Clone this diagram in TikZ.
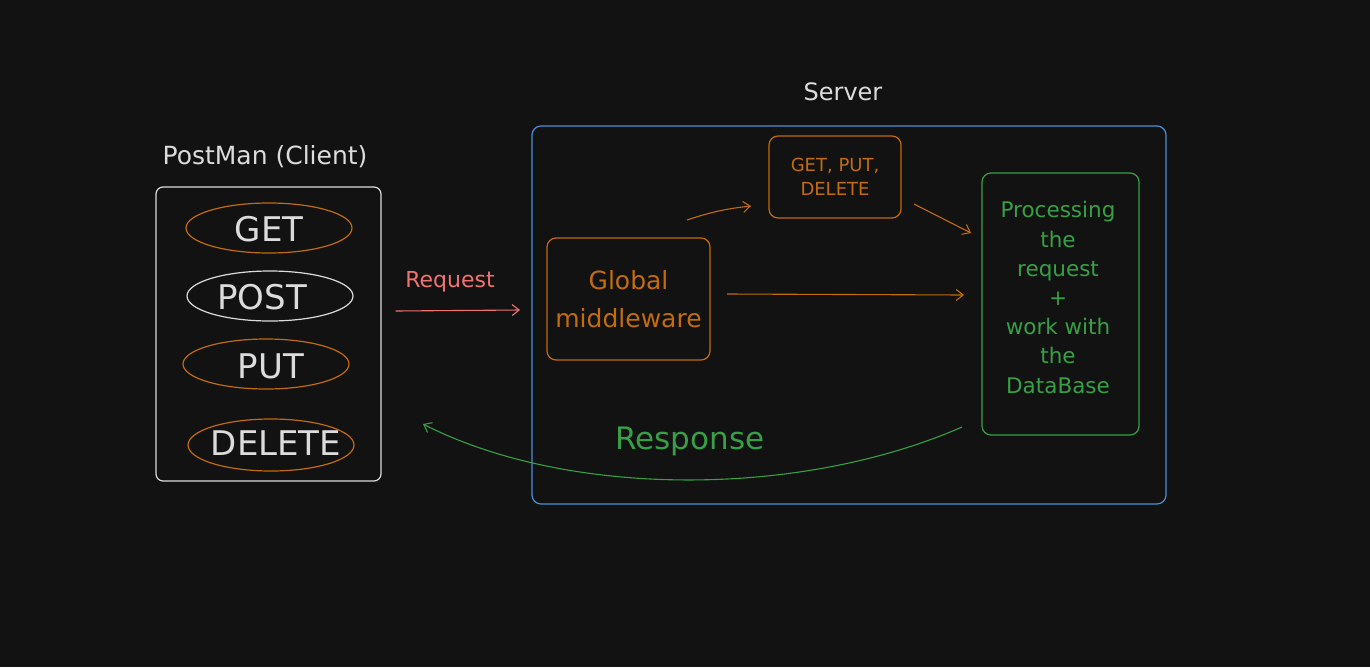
\documentclass[tikz,border=0pt]{standalone}
\usepackage{fontspec}
\setmainfont{DejaVu Sans}
\usetikzlibrary{arrows.meta,shapes.geometric}
\definecolor{bg}{HTML}{121212}
\definecolor{wht}{HTML}{DCDCDC}
\definecolor{org}{HTML}{C26C0A}
\definecolor{grn}{HTML}{37A046}
\definecolor{blu}{HTML}{4A8FD6}
\definecolor{rqs}{HTML}{F27272}
\tikzset{
  box/.style={draw, rounded corners=9pt, line width=1.2pt, inner sep=0pt},
  oval/.style={draw, ellipse, line width=1.2pt, inner sep=0pt, minimum width=166pt, minimum height=50pt},
  lbl/.style={inner sep=0pt, font=\fontsize{34}{34}\selectfont, text=wht},
  arr/.style={line width=1.1pt, -{Straight Barb[length=7pt,width=11pt]}},
}
\begin{document}
\begin{tikzpicture}[x=1pt,y=-1pt]
\fill[bg] (0,0) rectangle (1370,667);
\useasboundingbox (0,0) rectangle (1370,667);

% titles
\node[text=wht, font=\fontsize{24}{24}\selectfont] (servertitle) at (843,92) {Server};
\node[text=wht, font=\fontsize{25}{25}\selectfont] (clienttitle) at (265,157) {PostMan (Client)};

% containers
\node[box, draw=blu, minimum width=634pt, minimum height=378pt] (server) at (849,315) {};
\node[box, draw=wht, rounded corners=7pt, minimum width=225pt, minimum height=294pt] (client) at (268.5,334) {};

% client methods
\node[oval, draw=org] (get) at (269,228) {};
\node[oval, draw=wht] (post) at (270,296) {};
\node[oval, draw=org] (put) at (266,364) {};
\node[oval, draw=org, minimum height=52pt] (delete) at (271,445) {};
\node[lbl] (getl) at (269,229) {GET};
\node[lbl] (postl) at (262,297) {POST};
\node[lbl] (putl) at (271,366) {PUT};
\node[lbl] (deletel) at (276,443) {DELETE};

% server parts
\node[box, draw=org, text=org, minimum width=163pt, minimum height=122pt, align=center,
      font=\fontsize{25}{38}\selectfont] (global) at (628.5,299) {Global\\middleware};
\node[box, draw=org, text=org, minimum width=132pt, minimum height=82pt, align=center,
      font=\fontsize{18}{24}\selectfont] (gpd) at (835,177) {GET, PUT,\\DELETE};
\node[box, draw=grn, minimum width=157pt, minimum height=262pt] (proc) at (1060.5,304) {};
\node[text=grn, align=center, inner sep=0pt, font=\fontsize{21.5}{29.2}\selectfont] (proct) at (1058,297.5)
  {Processing\\the\\request\\+\\work with\\the\\DataBase};

% request
\node[text=rqs, font=\fontsize{22}{22}\selectfont] (reql) at (450,282) {Request};
\draw[arr, draw=rqs] (client.east |- 0,311) ++(14,0) coordinate (rqa) -- (520,310) coordinate (rqb);

% internal arrows
\coordinate (g1) at (687,220);
\coordinate (g2) at (751,206);
\draw[arr, draw=org] (g1) to[bend left=6] (g2);
\coordinate (p1) at (914,204);
\coordinate (p2) at (971,233);
\draw[arr, draw=org] (p1) -- (p2);
\coordinate (m1) at (727,294);
\coordinate (m2) at (964,295);
\draw[arr, draw=org] (m1) -- (m2);

% response
\coordinate (r1) at (962,427);
\coordinate (r2) at (423,424);
\draw[arr, draw=grn] (r1) .. controls (800,498) and (568,498) .. (r2);
\node[text=grn, font=\fontsize{31}{31}\selectfont] (resp) at (690,441) {Response};
\end{tikzpicture}
\end{document}
